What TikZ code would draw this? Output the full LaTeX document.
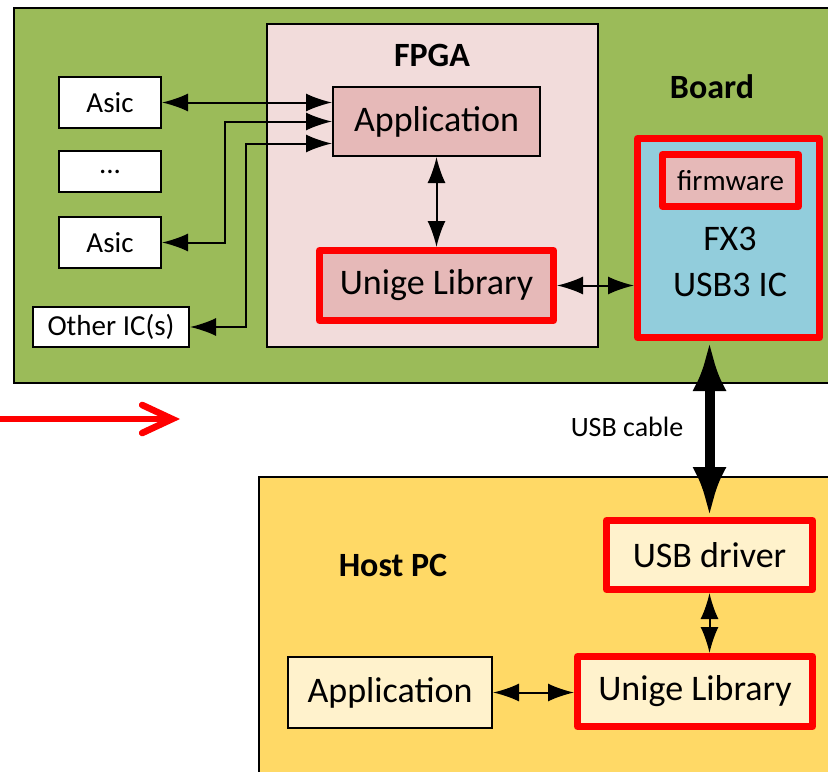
\documentclass[tikz,border=0pt]{standalone}
\usepackage{fontspec}
\setmainfont{Carlito}
\usetikzlibrary{calc,arrows.meta}
\definecolor{boardgreen}{HTML}{9BBB59}
\definecolor{fpgapink}{HTML}{F2DCDB}
\definecolor{apppink}{HTML}{E6B9B8}
\definecolor{chipblue}{HTML}{92CDDC}
\definecolor{hostyellow}{HTML}{FFD966}
\definecolor{hostlight}{HTML}{FFF2CC}
\tikzset{>={Latex[length=13pt,width=9pt]}, % big LaTeX-like tips
  container/.style={draw, line width=1pt, inner sep=0pt},
  block/.style={draw, line width=1pt, inner sep=0pt,
    font=\fontsize{18}{22}\selectfont},
  chip/.style={block, fill=white, font=\fontsize{14.5}{17}\selectfont},
  redblock/.style={draw=red, line width=3.5pt, line join=round, inner sep=0pt,
    font=\fontsize{18}{22}\selectfont},
  title/.style={font=\bfseries\fontsize{17}{20}\selectfont},
  link/.style={<->, line width=1pt},
  cable/.style={<->, line width=5pt, >={Latex[length=25pt,width=17pt]}},
}

\begin{document}
\begin{tikzpicture}[x=0.5pt, y=-0.5pt]

    \useasboundingbox (0,0) rectangle (828,771);
    \clip (0,0) rectangle (828,771);

    % board side
    \node [container, fill=boardgreen, minimum width=423pt, minimum height=187.5pt]
    at (437,195.5) (board) {};
    \node [title] at (712,87) (boardlabel) {Board};

    \node [container, fill=fpgapink, minimum width=165.5pt, minimum height=161.5pt]
    at (432.5,185.5) (fpga) {};
    \node [title] at (432,55) (fpgalabel) {FPGA};

    \node [block, fill=apppink, minimum width=103.5pt, minimum height=34.5pt]
    at (436.5,121.5) (app) {Application};
    \node [redblock, fill=apppink, minimum width=117pt, minimum height=35pt]
    at (436.5,285.5) (ulib) {Unige Library};

    \node [chip, minimum width=51pt, minimum height=25.5pt]
    at (110,102.5) (asicA) {Asic};
    \node [chip, minimum width=51pt, minimum height=20.5pt]
    at (110,171.5) (dots) {...};
    \node [chip, minimum width=51pt, minimum height=25.5pt]
    at (110,242.5) (asicB) {Asic};
    \node [chip, minimum width=78pt, minimum height=20pt]
    at (111,327) (other) {Other IC(s)};

    \node [redblock, fill=chipblue, minimum width=91pt, minimum height=99.5pt]
    at (728.5,238) (fx3) {};
    \node [redblock, fill=apppink, minimum width=68pt, minimum height=26pt,
    font=\fontsize{14.5}{17}\selectfont] at (730.5,180.5) (firmware) {firmware};
    \node [align=center, font=\fontsize{18}{23}\selectfont]
    at (730,262) (fx3label) {FX3\\USB3 IC};

    \draw [link] (asicA.east) -- (asicA.east -| app.west);
    \draw [link] (app.west) -- ++(-107,0) |- (asicB.east);
    \draw [link] ($(app.west)+(0,22)$) -- ++(-86,0) |- (other.east);
    \draw [link] (app.south) -- (ulib.north);
    \draw [link] (ulib.east) -- (ulib.east -| fx3.west);

    % host side
    \node [container, fill=hostyellow, minimum width=300.5pt, minimum height=161.5pt]
    at (559.5,638.5) (host) {};
    \node [title] at (393,565) (hostlabel) {Host PC};

    \node [redblock, fill=hostlight, minimum width=103pt, minimum height=34.5pt]
    at (709.5,555) (driver) {USB driver};
    \node [redblock, fill=hostlight, minimum width=117.5pt, minimum height=35pt]
    at (695,691.5) (hlib) {Unige Library};
    \node [block, fill=hostlight, minimum width=102pt, minimum height=35.5pt]
    at (390,692.5) (happ) {Application};

    \draw [link] (driver.south) -- (driver.south |- hlib.north);
    \draw [link] (happ.east) -- (happ.east -| hlib.west);

    % usb cable
    \draw [cable] (driver.north) -- (driver.north |- fx3.south);
    \node [font=\fontsize{14}{17}\selectfont] at (627,427) (cablelabel) {USB cable};

    % red pointer
    \coordinate (pointstart) at (-10,419);
    \coordinate (pointend) at (180,419);
    \draw [red, line width=3.3pt, -{Straight Barb[length=15pt,width=14pt,line cap=round]}]
    (pointstart) -- (pointend);

\end{tikzpicture}
\end{document}
